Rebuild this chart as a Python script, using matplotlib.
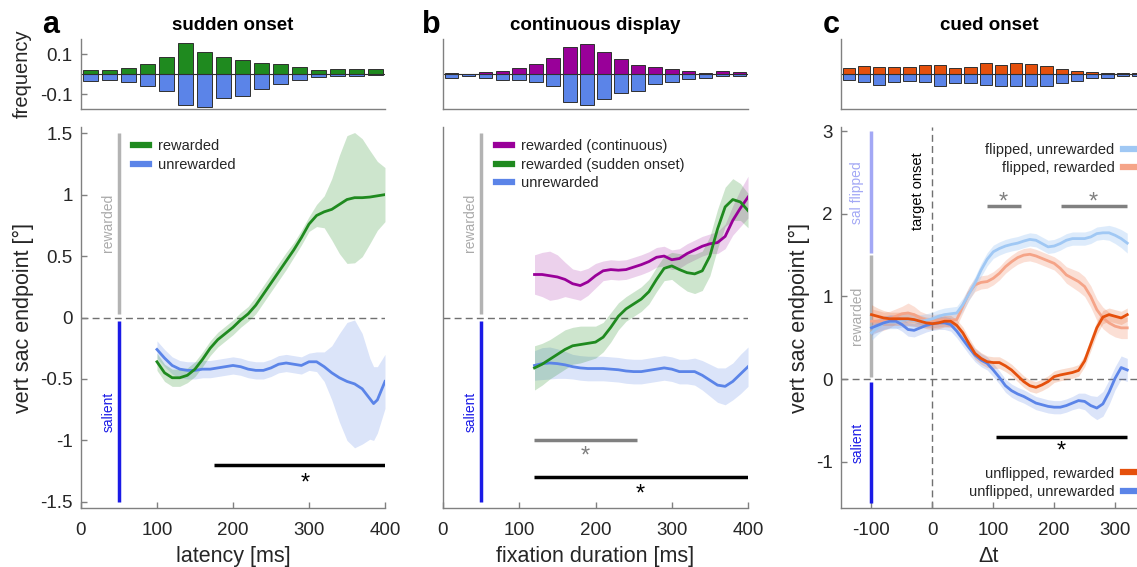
import matplotlib
matplotlib.use("Agg")
import matplotlib.pyplot as plt
import numpy as np

plt.rcParams['font.family'] = ['Liberation Sans', 'DejaVu Sans']
plt.rcParams['axes.unicode_minus'] = False

green = '#1f8a1f'
blue = '#5b84e8'
purple = '#990099'
orange = '#e5500c'
lightblue = '#a0c8f4'
salmon = '#f5a488'
salblue = '#1a1ae6'
rewgray = '#b3b3b3'
flipblue = '#a3a8f5'
axcol = '#808080'
txtcol = '#262626'

# ---------------- panel a: sudden onset ----------------
bin_a = 25
hist_a_rew = [0.022, 0.022, 0.03, 0.052, 0.088, 0.155, 0.113, 0.085,
              0.073, 0.055, 0.05, 0.035, 0.022, 0.025, 0.025, 0.025]
hist_a_unr = [0.037, 0.032, 0.04, 0.058, 0.083, 0.157, 0.165, 0.122,
              0.112, 0.075, 0.048, 0.028, 0.015, 0.008, 0.008, 0.005]

lat_a = [100, 110, 120, 130, 140, 150, 160, 170, 180, 190, 200, 210, 220, 230, 240, 250,
         260, 270, 280, 290, 300, 310, 320, 330, 340, 350, 360, 370, 380, 385, 390, 400]
rew_a = [-0.36, -0.45, -0.49, -0.49, -0.47, -0.42, -0.34, -0.25, -0.18, -0.13, -0.08, -0.02,
         0.03, 0.10, 0.19, 0.28, 0.37, 0.46, 0.55, 0.65, 0.76, 0.83, 0.86, 0.88, 0.92, 0.96,
         0.975, 0.975, 0.98, 0.985, 0.99, 1.0]
rew_a_se = [0.07, 0.07, 0.07, 0.07, 0.06, 0.06, 0.06, 0.06, 0.06, 0.06, 0.06, 0.06, 0.06,
            0.07, 0.07, 0.07, 0.07, 0.07, 0.06, 0.06, 0.06, 0.09, 0.13, 0.25, 0.40, 0.52,
            0.53, 0.48, 0.38, 0.33, 0.28, 0.22]
unr_a = [-0.26, -0.33, -0.39, -0.42, -0.43, -0.43, -0.42, -0.42, -0.41, -0.40, -0.39, -0.40,
         -0.42, -0.43, -0.43, -0.41, -0.38, -0.37, -0.38, -0.39, -0.36, -0.36, -0.40, -0.45,
         -0.49, -0.52, -0.54, -0.58, -0.66, -0.70, -0.67, -0.52]
unr_a_se = [0.07, 0.07, 0.07, 0.07, 0.07, 0.07, 0.07, 0.07, 0.07, 0.07, 0.07, 0.07, 0.07,
            0.07, 0.07, 0.07, 0.07, 0.07, 0.07, 0.07, 0.07, 0.08, 0.12, 0.22, 0.36, 0.48,
            0.52, 0.45, 0.33, 0.30, 0.27, 0.22]
sig_a = [175, 400]

# ---------------- panel b: continuous display ----------------
bin_b = 400 / 18
hist_b_rew = [0.008, 0.003, 0.012, 0.017, 0.033, 0.052, 0.08, 0.138, 0.152,
              0.113, 0.077, 0.047, 0.035, 0.025, 0.015, 0.008, 0.015, 0.012]
hist_b_unr = [0.02, 0.01, 0.02, 0.028, 0.028, 0.038, 0.062, 0.142, 0.157,
              0.125, 0.095, 0.085, 0.052, 0.042, 0.023, 0.018, 0.008, 0.008]

dur_b = [120, 130, 140, 150, 160, 170, 180, 190, 200, 210, 220, 230, 240, 250, 260,
         270, 280, 290, 300, 310, 320, 330, 340, 350, 360, 370, 380, 390, 400]
cont_b = [0.35, 0.35, 0.34, 0.33, 0.31, 0.275, 0.26, 0.29, 0.34,
          0.38, 0.39, 0.385, 0.39, 0.41, 0.43, 0.455, 0.49, 0.50, 0.47,
          0.48, 0.52, 0.55, 0.58, 0.60, 0.61, 0.66, 0.79, 0.89, 0.98]
cont_b_se = [0.16, 0.18, 0.20, 0.18, 0.14, 0.12, 0.12, 0.11, 0.10,
             0.08, 0.08, 0.08, 0.08, 0.08, 0.08, 0.08, 0.08, 0.08, 0.08,
             0.08, 0.08, 0.08, 0.08, 0.08, 0.09, 0.10, 0.12, 0.15, 0.17]
sudd_b = [-0.41, -0.38, -0.34, -0.30, -0.26, -0.23, -0.22, -0.21, -0.20,
          -0.16, -0.08, 0.01, 0.07, 0.11, 0.15, 0.21, 0.31, 0.40, 0.42,
          0.39, 0.365, 0.355, 0.38, 0.50, 0.72, 0.90, 0.96, 0.94, 0.87]
sudd_b_se = [0.18, 0.17, 0.16, 0.16, 0.16, 0.15, 0.15, 0.14, 0.13,
             0.12, 0.12, 0.11, 0.10, 0.10, 0.10, 0.10, 0.10, 0.10, 0.11,
             0.13, 0.15, 0.16, 0.16, 0.16, 0.16, 0.16, 0.17, 0.15, 0.14]
unr_b = [-0.39, -0.375, -0.37, -0.375, -0.385, -0.40, -0.41, -0.415, -0.415,
         -0.415, -0.42, -0.425, -0.435, -0.44, -0.44, -0.43, -0.42, -0.41, -0.42,
         -0.44, -0.44, -0.44, -0.47, -0.51, -0.55, -0.56, -0.52, -0.46, -0.40]
unr_b_se = [0.12, 0.13, 0.13, 0.12, 0.11, 0.10, 0.10, 0.10, 0.10,
            0.10, 0.10, 0.10, 0.10, 0.10, 0.10, 0.10, 0.10, 0.10, 0.10,
            0.10, 0.10, 0.11, 0.12, 0.13, 0.14, 0.15, 0.15, 0.16, 0.16]
sig_b_gray = [120, 255]
sig_b_black = [120, 400]

# ---------------- panel c: cued onset ----------------
bin_c = 25
hist_c_rew = [0.033, 0.042, 0.037, 0.037, 0.038, 0.045, 0.047, 0.03, 0.035, 0.057,
              0.045, 0.055, 0.053, 0.043, 0.027, 0.017, 0.012, 0.008, 0.007, 0.007]
hist_c_unr = [0.032, 0.038, 0.053, 0.04, 0.037, 0.042, 0.058, 0.045, 0.045, 0.055,
              0.062, 0.062, 0.062, 0.062, 0.045, 0.033, 0.02, 0.02, 0.012, 0.008]

dt_c = [-100, -90, -80, -70, -60, -50, -40, -30, -20, -10,
        0, 10, 20, 30, 40, 50, 60, 70, 80, 90,
        100, 110, 120, 130, 140, 150, 160, 170, 180, 190,
        200, 210, 220, 230, 240, 250, 260, 270, 280, 290,
        300, 310, 320]
unfl_unr = [0.62, 0.65, 0.68, 0.70, 0.70, 0.66, 0.60, 0.59, 0.62, 0.65,
            0.67, 0.68, 0.68, 0.66, 0.58, 0.48, 0.38, 0.29, 0.23, 0.19,
            0.11, 0.02, -0.08, -0.14, -0.18, -0.21, -0.25, -0.29, -0.31, -0.33,
            -0.34, -0.34, -0.32, -0.29, -0.26, -0.27, -0.32, -0.35, -0.30, -0.16,
            0.01, 0.14, 0.11]
unfl_unr_se = [0.09, 0.08, 0.08, 0.08, 0.08, 0.08, 0.08, 0.08, 0.08, 0.08,
               0.08, 0.08, 0.08, 0.08, 0.08, 0.08, 0.08, 0.08, 0.08, 0.08,
               0.08, 0.08, 0.08, 0.08, 0.08, 0.08, 0.08, 0.08, 0.08, 0.08,
               0.08, 0.08, 0.08, 0.08, 0.09, 0.10, 0.12, 0.14, 0.15, 0.15,
               0.14, 0.14, 0.14]
unfl_rew = [0.78, 0.76, 0.74, 0.73, 0.73, 0.73, 0.73, 0.72, 0.70, 0.68,
            0.67, 0.68, 0.70, 0.70, 0.65, 0.56, 0.43, 0.31, 0.25, 0.21,
            0.20, 0.20, 0.16, 0.11, 0.04, -0.03, -0.08, -0.10, -0.07, -0.03,
            0.03, 0.05, 0.065, 0.08, 0.105, 0.22, 0.42, 0.62, 0.75, 0.78,
            0.76, 0.74, 0.78]
unfl_rew_se = [0.12, 0.10, 0.09, 0.08, 0.08, 0.08, 0.08, 0.08, 0.07, 0.07,
               0.07, 0.07, 0.07, 0.07, 0.07, 0.07, 0.07, 0.07, 0.07, 0.07,
               0.07, 0.07, 0.07, 0.07, 0.07, 0.07, 0.07, 0.07, 0.07, 0.07,
               0.07, 0.07, 0.07, 0.07, 0.07, 0.07, 0.08, 0.08, 0.08, 0.08,
               0.08, 0.08, 0.08]
fl_unr = [0.56, 0.62, 0.68, 0.69, 0.69, 0.71, 0.72, 0.71, 0.70, 0.71,
          0.73, 0.76, 0.78, 0.79, 0.80, 0.90, 1.03, 1.16, 1.32, 1.45,
          1.54, 1.58, 1.61, 1.63, 1.645, 1.67, 1.69, 1.68, 1.64, 1.60,
          1.61, 1.64, 1.68, 1.70, 1.70, 1.70, 1.72, 1.76, 1.77, 1.77,
          1.74, 1.70, 1.645]
fl_unr_se = [0.09, 0.08, 0.08, 0.08, 0.08, 0.08, 0.08, 0.08, 0.08, 0.08,
             0.08, 0.08, 0.08, 0.08, 0.08, 0.08, 0.08, 0.08, 0.08, 0.08,
             0.08, 0.08, 0.08, 0.08, 0.08, 0.08, 0.08, 0.08, 0.08, 0.08,
             0.08, 0.08, 0.08, 0.08, 0.08, 0.08, 0.08, 0.08, 0.08, 0.09,
             0.10, 0.11, 0.12]
fl_rew = [0.70, 0.70, 0.70, 0.72, 0.76, 0.79, 0.80, 0.78, 0.74, 0.71,
          0.70, 0.71, 0.72, 0.71, 0.72, 0.88, 1.04, 1.14, 1.17, 1.18,
          1.22, 1.28, 1.36, 1.42, 1.47, 1.50, 1.51, 1.49, 1.46, 1.43,
          1.40, 1.34, 1.26, 1.22, 1.18, 1.12, 1.00, 0.84, 0.74, 0.68,
          0.64, 0.62, 0.62]
fl_rew_se = [0.15, 0.13, 0.11, 0.10, 0.09, 0.09, 0.12, 0.10, 0.08, 0.08,
             0.08, 0.08, 0.08, 0.08, 0.08, 0.08, 0.08, 0.08, 0.08, 0.08,
             0.08, 0.08, 0.08, 0.08, 0.08, 0.08, 0.08, 0.08, 0.08, 0.08,
             0.08, 0.09, 0.10, 0.11, 0.12, 0.12, 0.13, 0.13, 0.13, 0.13,
             0.13, 0.13, 0.13]
sig_c_gray = [[89, 145], [212, 319]]
sig_c_black = [104, 320]

# category bars at the left of each panel
cat_a = 50
cat_c = -100
rew_span = [0.03, 1.5]
sal_span = [-0.03, -1.5]
c_rew_span = [0.03, 1.5]
c_flip_span = [1.52, 3.0]
c_sal_span = [-0.03, -1.5]


def clean(ax):
    for s in ['top', 'right']:
        ax.spines[s].set_visible(False)
    for s in ['left', 'bottom']:
        ax.spines[s].set_color(axcol)
        ax.spines[s].set_linewidth(1.0)
    ax.tick_params(direction='in', color=axcol, labelcolor=txtcol, labelsize=13.5,
                   length=4, width=1)
    ax.tick_params(axis='x', pad=10)
    ax.tick_params(axis='y', pad=6)


def hist(ax, start, width, up, down, col):
    centers = start + width * (np.arange(len(up)) + 0.5)
    ax.bar(centers, up, width=0.8 * width, color=col, edgecolor='#303030', linewidth=0.7)
    ax.bar(centers, -np.array(down), width=0.8 * width, color=blue,
           edgecolor='#303030', linewidth=0.7)
    ax.axhline(0, color='#303030', lw=0.8)
    ax.set_ylim(-0.175, 0.175)
    clean(ax)
    ax.set_xticks([])


def curve(ax, x, y, se, col, alpha=0.22, z=2):
    x = np.array(x)
    y = np.array(y)
    se = np.array(se)
    ax.fill_between(x, y - se, y + se, color=col, alpha=alpha, lw=0, zorder=z)
    ln, = ax.plot(x, y, color=col, lw=2, zorder=z + 1)
    return ln


def catbar(ax, x, span, col):
    ax.plot([x, x], span, color=col, lw=2.5, solid_capstyle='butt')


def dashed0(ax):
    ax.axhline(0, color='#707070', lw=1, ls=(0, (5, 3)), zorder=1)


def sigbar(ax, span, y, col, ys):
    ax.plot(span, [y, y], color=col, lw=2.5, solid_capstyle='butt')
    ax.text(ys[0], ys[1], '*', color=col, fontsize=17, ha='center', va='center')


def fix_legend(leg):
    for h in leg.get_lines():
        h.set_linewidth(4.5)
    for t in leg.get_texts():
        t.set_color(txtcol)


fig = plt.figure(figsize=(11.37, 5.67), dpi=100)

lefts = [0.0712, 0.3896, 0.7397]
widths = [0.2674, 0.2683, 0.2603]
mb, mh = 0.104, 0.672
hb, hh = 0.8078, 0.123

# ---------- a ----------
ha = fig.add_axes([lefts[0], hb, widths[0], hh])
hist(ha, 0, bin_a, hist_a_rew, hist_a_unr, green)
ha.set_xlim(0, 400)
ha.set_yticks([-0.1, 0.1])
ha.set_yticklabels(['-0.1', '0.1'])
ha.set_ylabel('frequency', fontsize=14.5, color=txtcol, labelpad=6)
ha.set_title('sudden onset', fontsize=13.5, fontweight='bold', pad=7)

aa = fig.add_axes([lefts[0], mb, widths[0], mh])
clean(aa)
aa.set_xlim(0, 400)
aa.set_ylim(-1.55, 1.55)
aa.set_xticks([0, 100, 200, 300, 400])
aa.set_yticks([-1.5, -1, -0.5, 0, 0.5, 1, 1.5])
aa.set_yticklabels(['-1.5', '-1', '-0.5', '0', '0.5', '1', '1.5'])
dashed0(aa)
catbar(aa, cat_a, rew_span, rewgray)
catbar(aa, cat_a, sal_span, salblue)
aa.text(36, 0.77, 'rewarded', rotation=90, color='#aaaaaa', ha='center', va='center', fontsize=10)
aa.text(36, -0.77, 'salient', rotation=90, color=salblue, ha='center', va='center', fontsize=10)
l_ur = curve(aa, lat_a, unr_a, unr_a_se, blue)
l_r = curve(aa, lat_a, rew_a, rew_a_se, green)
sigbar(aa, sig_a, -1.2, 'black', (295, -1.35))
aa.set_xlabel('latency [ms]', fontsize=15.5, color=txtcol, labelpad=5)
aa.set_ylabel('vert sac endpoint [°]', fontsize=15.5, color=txtcol, labelpad=4)
leg = aa.legend([l_r, l_ur], ['rewarded', 'unrewarded'], loc='upper left',
                bbox_to_anchor=(69, 1.45), bbox_transform=aa.transData, frameon=False,
                fontsize=10.5, handlelength=1.1, handletextpad=0.6, labelspacing=0.3,
                borderpad=0, borderaxespad=0)
fix_legend(leg)

# ---------- b ----------
hbx = fig.add_axes([lefts[1], hb, widths[1], hh])
hist(hbx, 0, bin_b, hist_b_rew, hist_b_unr, purple)
hbx.set_xlim(0, 400)
hbx.set_yticks([])
hbx.set_title('continuous display', fontsize=13.5, fontweight='bold', pad=7)

ab = fig.add_axes([lefts[1], mb, widths[1], mh])
clean(ab)
ab.set_xlim(0, 400)
ab.set_ylim(-1.55, 1.55)
ab.set_xticks([0, 100, 200, 300, 400])
ab.set_yticks([])
dashed0(ab)
catbar(ab, cat_a, rew_span, rewgray)
catbar(ab, cat_a, sal_span, salblue)
ab.text(36, 0.77, 'rewarded', rotation=90, color='#aaaaaa', ha='center', va='center', fontsize=10)
ab.text(36, -0.77, 'salient', rotation=90, color=salblue, ha='center', va='center', fontsize=10)
l_bu = curve(ab, dur_b, unr_b, unr_b_se, blue)
l_bc = curve(ab, dur_b, cont_b, cont_b_se, purple, alpha=0.18)
l_bs = curve(ab, dur_b, sudd_b, sudd_b_se, green)
sigbar(ab, sig_b_gray, -1.0, '#808080', (187, -1.13))
sigbar(ab, sig_b_black, -1.3, 'black', (259, -1.44))
ab.set_xlabel('fixation duration [ms]', fontsize=15.5, color=txtcol, labelpad=5)
leg = ab.legend([l_bc, l_bs, l_bu],
                ['rewarded (continuous)', 'rewarded (sudden onset)', 'unrewarded'],
                loc='upper left', bbox_to_anchor=(70, 1.45), bbox_transform=ab.transData,
                frameon=False, fontsize=10.5, handlelength=1.1, handletextpad=0.6,
                labelspacing=0.3, borderpad=0, borderaxespad=0)
fix_legend(leg)

# ---------- c ----------
hc = fig.add_axes([lefts[2], hb, widths[2], hh])
hist(hc, -150, bin_c, hist_c_rew, hist_c_unr, orange)
hc.set_xlim(-150, 336)
hc.set_yticks([])
hc.set_title('cued onset', fontsize=13.5, fontweight='bold', pad=7)

ac = fig.add_axes([lefts[2], mb, widths[2], mh])
clean(ac)
ac.set_xlim(-150, 336)
ac.set_ylim(-1.56, 3.05)
ac.set_xticks([-100, 0, 100, 200, 300])
ac.set_yticks([-1, 0, 1, 2, 3])
dashed0(ac)
ac.axvline(0, color='#707070', lw=1, ls=(0, (5, 3)), zorder=1)
catbar(ac, cat_c, c_flip_span, flipblue)
catbar(ac, cat_c, c_rew_span, rewgray)
catbar(ac, cat_c, c_sal_span, salblue)
ac.text(-123, 2.26, 'sal flipped', rotation=90, color=flipblue, ha='center', va='center', fontsize=10)
ac.text(-123, 0.76, 'rewarded', rotation=90, color='#aaaaaa', ha='center', va='center', fontsize=10)
ac.text(-123, -0.77, 'salient', rotation=90, color=salblue, ha='center', va='center', fontsize=10)
ac.text(-23, 2.27, 'target onset', rotation=90, color='black', ha='center', va='center', fontsize=10.5)
l_fr = curve(ac, dt_c, fl_rew, fl_rew_se, salmon, alpha=0.35)
l_fu = curve(ac, dt_c, fl_unr, fl_unr_se, lightblue, alpha=0.35)
l_uu = curve(ac, dt_c, unfl_unr, unfl_unr_se, blue)
l_ur2 = curve(ac, dt_c, unfl_rew, unfl_rew_se, orange, alpha=0.2)
for span, xs in zip(sig_c_gray, [116, 264]):
    sigbar(ac, span, 2.1, '#808080', (xs, 2.14))
sigbar(ac, sig_c_black, -0.7, 'black', (211, -0.88))
ac.set_xlabel('Δt', fontsize=15.5, color=txtcol, labelpad=5)
ac.set_ylabel('vert sac endpoint [°]', fontsize=15.5, color=txtcol, labelpad=4)
leg1 = ac.legend([l_fu, l_fr], ['flipped, unrewarded', 'flipped, rewarded'],
                 loc='upper right', bbox_to_anchor=(340, 2.86), bbox_transform=ac.transData,
                 frameon=False, fontsize=10.5, handlelength=1.1, handletextpad=0.6,
                 labelspacing=0.3, borderpad=0, borderaxespad=0, markerfirst=False)
fix_legend(leg1)
ac.add_artist(leg1)
leg2 = ac.legend([l_ur2, l_uu], ['unflipped, rewarded', 'unflipped, unrewarded'],
                 loc='lower right', bbox_to_anchor=(340, -1.45), bbox_transform=ac.transData,
                 frameon=False, fontsize=10.5, handlelength=1.1, handletextpad=0.6,
                 labelspacing=0.3, borderpad=0, borderaxespad=0, markerfirst=False)
fix_legend(leg2)

fig.text(0.037, 0.942, 'a', fontsize=22, fontweight='bold', va='baseline')
fig.text(0.371, 0.942, 'b', fontsize=22, fontweight='bold', va='baseline')
fig.text(0.724, 0.942, 'c', fontsize=22, fontweight='bold', va='baseline')

fig.savefig('out.png', dpi=100)
